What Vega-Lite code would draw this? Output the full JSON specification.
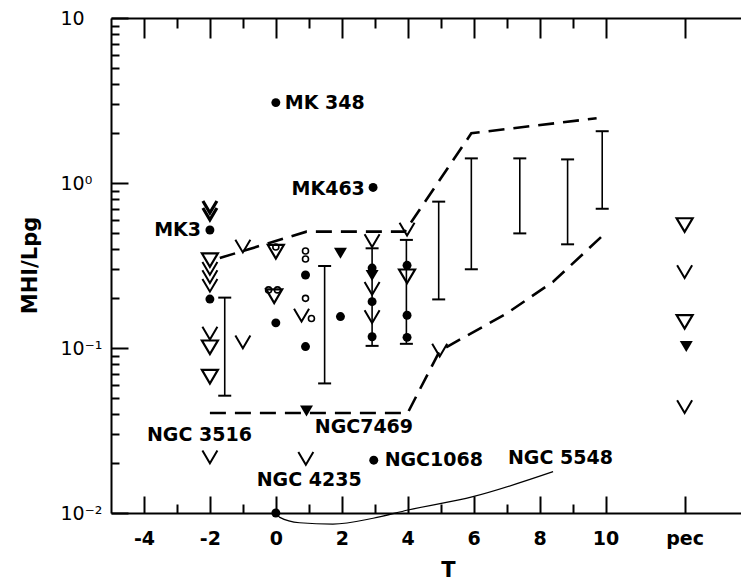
{
  "$schema": "https://vega.github.io/schema/vega-lite/v6.json",
  "width": 630,
  "height": 495,
  "autosize": {"type": "none"},
  "padding": {"left": 111, "top": 18, "right": 0, "bottom": 68},
  "config": {
    "view": {"stroke": null},
    "axis": {"grid": false, "domainColor": "black", "tickColor": "black", "labelColor": "black", "titleColor": "black", "labelFont": "DejaVu Sans", "titleFont": "DejaVu Sans"}
  },
  "datasets": {
    "pts": [
      {"x": 0, "y": 3.07, "s": "dot"},
      {"x": 2.95, "y": 0.94, "s": "dot"},
      {"x": -2, "y": 0.519, "s": "dot"},
      {"x": -2, "y": 0.198, "s": "dot"},
      {"x": 0, "y": 0.142, "s": "dot"},
      {"x": 0.9, "y": 0.277, "s": "dot"},
      {"x": 0.9, "y": 0.102, "s": "dot"},
      {"x": 1.96, "y": 0.155, "s": "dot"},
      {"x": 2.92, "y": 0.305, "s": "dot"},
      {"x": 2.92, "y": 0.191, "s": "dot"},
      {"x": 2.92, "y": 0.117, "s": "dot"},
      {"x": 3.98, "y": 0.317, "s": "dot"},
      {"x": 3.98, "y": 0.158, "s": "dot"},
      {"x": 3.98, "y": 0.116, "s": "dot"},
      {"x": 2.97, "y": 0.0209, "s": "dot"},
      {"x": 0, "y": 0.01, "s": "dot"},
      {"x": 0, "y": 0.409, "s": "ring"},
      {"x": -0.22, "y": 0.225, "s": "ring"},
      {"x": 0.05, "y": 0.225, "s": "ring"},
      {"x": 0.9, "y": 0.387, "s": "ring"},
      {"x": 0.9, "y": 0.346, "s": "ring"},
      {"x": 0.9, "y": 0.2, "s": "ring"},
      {"x": 1.08, "y": 0.151, "s": "ring"},
      {"x": -2, "y": 0.341, "s": "tri"},
      {"x": -2, "y": 0.101, "s": "tri"},
      {"x": -2, "y": 0.067, "s": "tri"},
      {"x": 0, "y": 0.383, "s": "tri"},
      {"x": -0.05, "y": 0.206, "s": "tri"},
      {"x": 3.98, "y": 0.272, "s": "tri"},
      {"x": 12.4, "y": 0.556, "s": "tri"},
      {"x": 12.4, "y": 0.144, "s": "tri"},
      {"x": 1.96, "y": 0.375, "s": "trif"},
      {"x": 2.92, "y": 0.275, "s": "trif"},
      {"x": 0.93, "y": 0.0415, "s": "trif"},
      {"x": 12.45, "y": 0.102, "s": "trif"},
      {"x": -2, "y": 0.716, "s": "veeb"},
      {"x": -2, "y": 0.649, "s": "veeb"},
      {"x": -2, "y": 0.304, "s": "vee"},
      {"x": -2, "y": 0.271, "s": "vee"},
      {"x": -2, "y": 0.24, "s": "vee"},
      {"x": -2, "y": 0.123, "s": "vee"},
      {"x": -1, "y": 0.109, "s": "vee"},
      {"x": -1, "y": 0.415, "s": "vee"},
      {"x": 0.78, "y": 0.158, "s": "vee"},
      {"x": 2.92, "y": 0.447, "s": "vee"},
      {"x": 2.92, "y": 0.23, "s": "vee"},
      {"x": 2.92, "y": 0.155, "s": "vee"},
      {"x": 3.98, "y": 0.526, "s": "vee"},
      {"x": 4.97, "y": 0.097, "s": "vee"},
      {"x": 12.4, "y": 0.29, "s": "vee"},
      {"x": 12.4, "y": 0.0441, "s": "vee"},
      {"x": -2, "y": 0.0219, "s": "vee"},
      {"x": 0.91, "y": 0.0214, "s": "vee"}
    ],
    "err": [
      {"x": -1.55, "lo": 0.0514, "hi": 0.202},
      {"x": 1.48, "lo": 0.061, "hi": 0.314},
      {"x": 2.92, "lo": 0.103, "hi": 0.402},
      {"x": 3.96, "lo": 0.106, "hi": 0.452},
      {"x": 4.94, "lo": 0.197, "hi": 0.771},
      {"x": 5.93, "lo": 0.3, "hi": 1.41},
      {"x": 7.4, "lo": 0.495, "hi": 1.41},
      {"x": 8.85, "lo": 0.425, "hi": 1.39},
      {"x": 9.9, "lo": 0.698, "hi": 2.06}
    ],
    "lines": [
      {"g": "upper", "i": 1, "x": -1.7, "y": 0.351},
      {"g": "upper", "i": 2, "x": 0.93, "y": 0.507},
      {"g": "upper", "i": 3, "x": 3.91, "y": 0.507},
      {"g": "upper", "i": 4, "x": 5.93, "y": 2.0},
      {"g": "upper", "i": 5, "x": 9.73, "y": 2.47},
      {"g": "lower", "i": 1, "x": -2, "y": 0.0404},
      {"g": "lower", "i": 2, "x": 4, "y": 0.0404},
      {"g": "lower", "i": 3, "x": 4.97, "y": 0.096},
      {"g": "lower", "i": 4, "x": 7.0, "y": 0.162},
      {"g": "lower", "i": 5, "x": 8.41, "y": 0.252},
      {"g": "lower", "i": 6, "x": 9.88, "y": 0.473}
    ],
    "curve": [
      {"i": 1, "x": 0.03, "y": 0.00986},
      {"i": 2, "x": 0.12, "y": 0.00941},
      {"i": 3, "x": 0.72, "y": 0.00873},
      {"i": 4, "x": 1.73, "y": 0.00857},
      {"i": 5, "x": 2.95, "y": 0.00929},
      {"i": 6, "x": 4.01, "y": 0.01043},
      {"i": 7, "x": 5.98, "y": 0.01256},
      {"i": 8, "x": 8.41, "y": 0.0178}
    ],
    "labels": [
      {"x": 0.27, "y": 3.05, "t": "MK 348", "a": "l"},
      {"x": 2.7, "y": 0.92, "t": "MK463", "a": "r"},
      {"x": -2.27, "y": 0.519, "t": "MK3", "a": "r"},
      {"x": -3.91, "y": 0.0297, "t": "NGC 3516", "a": "l"},
      {"x": 1.18, "y": 0.0332, "t": "NGC7469", "a": "l"},
      {"x": -0.58, "y": 0.01585, "t": "NGC 4235", "a": "l"},
      {"x": 3.3, "y": 0.0209, "t": "NGC1068", "a": "l"},
      {"x": 7.04, "y": 0.0215, "t": "NGC 5548", "a": "l"}
    ]
  },
  "resolve": {"axis": {"x": "independent", "y": "independent"}},
  "layer": [
    {
      "data": {"name": "lines"},
      "mark": {"type": "line", "color": "black", "strokeWidth": 2.6, "strokeDash": [16, 9]},
      "encoding": {
        "x": {"field": "x", "type": "quantitative", "scale": {"domain": [-5, 14.11], "nice": false, "zero": false},
          "axis": {"orient": "bottom", "values": [-4, -3, -2, -1, 0, 1, 2, 3, 4, 5, 6, 7, 8, 9, 10, 12.4],
            "labelExpr": "datum.value == 12.4 ? 'pec' : (datum.value % 2 == 0 ? '' + datum.value : '')",
            "tickSize": {"condition": {"test": "datum.value % 2 == 0 || datum.value == 12.4", "value": -17}, "value": -9},
            "labelPadding": 42, "labelBaseline": "middle", "labelFontSize": 19, "labelFontWeight": "bold", "labelFlush": false, "labelOverlap": false,
            "domainWidth": 2, "tickWidth": 2,
            "title": "T", "titleFontSize": 21, "titleFontWeight": "bold", "titleX": 337, "titleY": 57, "titleBaseline": "middle", "titleAlign": "center"}},
        "y": {"field": "y", "type": "quantitative", "scale": {"type": "log", "domain": [0.01, 10], "nice": false},
          "axis": {"orient": "left", "values": [0.01, 0.02, 0.03, 0.04, 0.05, 0.06, 0.07, 0.08, 0.09, 0.1, 0.2, 0.3, 0.4, 0.5, 0.6, 0.7, 0.8, 0.9, 1, 2, 3, 4, 5, 6, 7, 8, 9, 10],
            "labelExpr": "datum.value == 10 ? '10' : datum.value == 1 ? '10⁰' : datum.value == 0.1 ? '10⁻¹' : datum.value == 0.01 ? '10⁻²' : ''",
            "tickSize": {"condition": {"test": "datum.value == 0.01 || datum.value == 0.1 || datum.value == 1 || datum.value == 10", "value": -17}, "value": -8},
            "labelPadding": 68, "labelAlign": "left", "labelBaseline": "middle", "labelFontSize": 19, "labelFontWeight": "normal", "labelFlush": false, "labelOverlap": false,
            "domainWidth": 2, "tickWidth": 2,
            "title": "MHI/Lpg", "titleFontSize": 21, "titleFontWeight": "bold", "titleX": -81, "titleY": 247, "titleAngle": 270, "titleBaseline": "middle", "titleAlign": "center"}},
        "detail": {"field": "g"},
        "order": {"field": "i", "type": "quantitative"}
      }
    },
    {
      "data": {"name": "curve"},
      "mark": {"type": "line", "color": "black", "strokeWidth": 1.2, "interpolate": "monotone"},
      "encoding": {
        "x": {"field": "x", "type": "quantitative", "scale": {"domain": [-5, 14.11], "nice": false, "zero": false},
          "axis": {"orient": "top", "values": [-4, -3, -2, -1, 0, 1, 2, 3, 4, 5, 6, 7, 8, 9, 10, 12.4], "labels": false,
            "tickSize": {"condition": {"test": "datum.value % 2 == 0 || datum.value == 12.4", "value": -20}, "value": -10},
            "domainWidth": 2, "tickWidth": 2, "title": null}},
        "y": {"field": "y", "type": "quantitative", "scale": {"type": "log", "domain": [0.01, 10], "nice": false}, "axis": null},
        "order": {"field": "i", "type": "quantitative"}
      }
    },
    {
      "data": {"name": "err"},
      "mark": {"type": "rule", "color": "black", "strokeWidth": 1.6},
      "encoding": {
        "x": {"field": "x", "type": "quantitative", "axis": null},
        "y": {"field": "lo", "type": "quantitative", "axis": null},
        "y2": {"field": "hi"}
      }
    },
    {
      "data": {"name": "err"},
      "mark": {"type": "tick", "orient": "horizontal", "color": "black", "size": 13, "thickness": 2, "opacity": 1},
      "encoding": {
        "x": {"field": "x", "type": "quantitative", "axis": null},
        "y": {"field": "lo", "type": "quantitative", "axis": null}
      }
    },
    {
      "data": {"name": "err"},
      "mark": {"type": "tick", "orient": "horizontal", "color": "black", "size": 13, "thickness": 2, "opacity": 1},
      "encoding": {
        "x": {"field": "x", "type": "quantitative", "axis": null},
        "y": {"field": "hi", "type": "quantitative", "axis": null}
      }
    },
    {
      "data": {"name": "pts"},
      "transform": [{"filter": "datum.s == 'dot'"}],
      "mark": {"type": "point", "shape": "circle", "filled": true, "color": "black", "size": 80, "opacity": 1},
      "encoding": {
        "x": {"field": "x", "type": "quantitative", "axis": null},
        "y": {"field": "y", "type": "quantitative", "axis": null}
      }
    },
    {
      "data": {"name": "pts"},
      "transform": [{"filter": "datum.s == 'ring'"}],
      "mark": {"type": "point", "shape": "circle", "filled": false, "stroke": "black", "strokeWidth": 1.6, "size": 36, "opacity": 1},
      "encoding": {
        "x": {"field": "x", "type": "quantitative", "axis": null},
        "y": {"field": "y", "type": "quantitative", "axis": null}
      }
    },
    {
      "data": {"name": "pts"},
      "transform": [{"filter": "datum.s == 'tri'"}],
      "mark": {"type": "point", "shape": "M-1,-0.85L1,-0.85L0,0.85Z", "filled": false, "stroke": "black", "strokeWidth": 2.2, "size": 256, "opacity": 1},
      "encoding": {
        "x": {"field": "x", "type": "quantitative", "axis": null},
        "y": {"field": "y", "type": "quantitative", "axis": null}
      }
    },
    {
      "data": {"name": "pts"},
      "transform": [{"filter": "datum.s == 'trif'"}],
      "mark": {"type": "point", "shape": "M-1,-0.85L1,-0.85L0,0.85Z", "filled": true, "color": "black", "size": 169, "opacity": 1},
      "encoding": {
        "x": {"field": "x", "type": "quantitative", "axis": null},
        "y": {"field": "y", "type": "quantitative", "axis": null}
      }
    },
    {
      "data": {"name": "pts"},
      "transform": [{"filter": "datum.s == 'vee'"}],
      "mark": {"type": "point", "shape": "M-1,-0.85L0,0.85L1,-0.85", "filled": false, "stroke": "black", "strokeWidth": 2, "size": 225, "opacity": 1},
      "encoding": {
        "x": {"field": "x", "type": "quantitative", "axis": null},
        "y": {"field": "y", "type": "quantitative", "axis": null}
      }
    },
    {
      "data": {"name": "pts"},
      "transform": [{"filter": "datum.s == 'veeb'"}],
      "mark": {"type": "point", "shape": "M-1,-0.85L0,0.85L1,-0.85", "filled": false, "stroke": "black", "strokeWidth": 3.2, "size": 196, "opacity": 1},
      "encoding": {
        "x": {"field": "x", "type": "quantitative", "axis": null},
        "y": {"field": "y", "type": "quantitative", "axis": null}
      }
    },
    {
      "data": {"name": "labels"},
      "transform": [{"filter": "datum.a == 'l'"}],
      "mark": {"type": "text", "align": "left", "baseline": "middle", "font": "DejaVu Sans", "fontSize": 19, "fontWeight": "bold", "color": "black"},
      "encoding": {
        "x": {"field": "x", "type": "quantitative", "axis": null},
        "y": {"field": "y", "type": "quantitative", "axis": null},
        "text": {"field": "t"}
      }
    },
    {
      "data": {"name": "labels"},
      "transform": [{"filter": "datum.a == 'r'"}],
      "mark": {"type": "text", "align": "right", "baseline": "middle", "font": "DejaVu Sans", "fontSize": 19, "fontWeight": "bold", "color": "black"},
      "encoding": {
        "x": {"field": "x", "type": "quantitative", "axis": null},
        "y": {"field": "y", "type": "quantitative", "axis": null},
        "text": {"field": "t"}
      }
    }
  ]
}
